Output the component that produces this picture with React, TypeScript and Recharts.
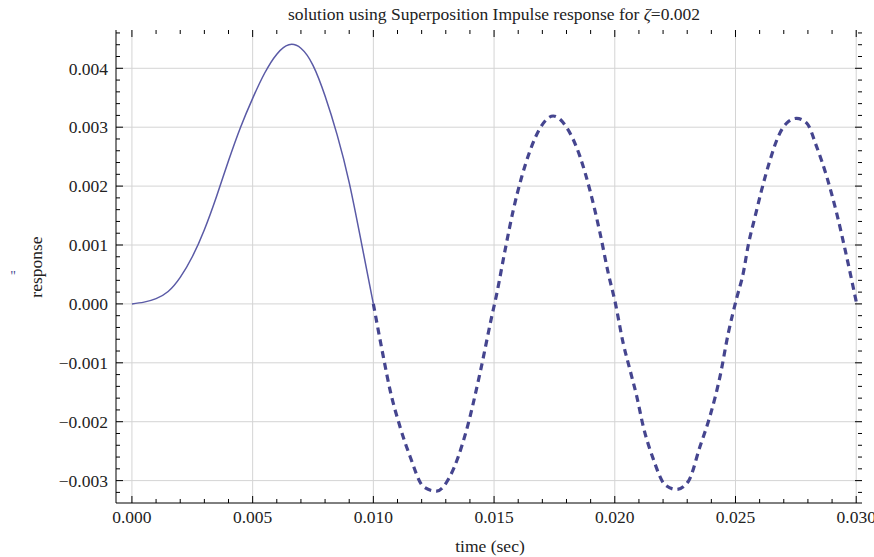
import { LineChart, Line, XAxis, YAxis, ReferenceLine } from "recharts";

// forced part (pulse acting)
const forcedTime = [
  0, 0.0005, 0.001, 0.0015, 0.002, 0.0025, 0.003, 0.0035, 0.004, 0.0045,
  0.005, 0.0055, 0.006, 0.0065, 0.007, 0.0075, 0.008, 0.0085, 0.009, 0.0095,
  0.01,
];
const forcedResponse = [
  0, 0.00003, 0.00009, 0.00021, 0.00045, 0.0008, 0.00126, 0.00182, 0.00243,
  0.003, 0.00349, 0.00392, 0.00424, 0.0044, 0.00434, 0.00405, 0.00353,
  0.00287, 0.00206, 0.00105, 0,
];

// free vibration after the pulse
const freeTime = [
  0.01, 0.01041, 0.01069, 0.0111, 0.01152, 0.01207, 0.01262, 0.01317, 0.01386,
  0.01442, 0.0149, 0.0151, 0.01545, 0.0158, 0.01614, 0.01649, 0.0169, 0.01745,
  0.018, 0.01856, 0.01897, 0.01939, 0.01973, 0.02001, 0.02035, 0.02063,
  0.02091, 0.02118, 0.0216, 0.02208, 0.02256, 0.02305, 0.02353, 0.02394,
  0.02436, 0.0247, 0.02505, 0.02532, 0.02553, 0.02581, 0.02608, 0.02643,
  0.02677, 0.02712, 0.02753, 0.02795, 0.02836, 0.02878, 0.02919, 0.02954,
  0.03002,
];
const freeResponse = [
  0, -0.00089, -0.00146, -0.00208, -0.00259, -0.0031, -0.00318, -0.00293,
  -0.00214, -0.00117, -0.00022, 0.00015, 0.0009, 0.0016, 0.00215, 0.0026,
  0.00298, 0.00319, 0.003, 0.0025, 0.00193, 0.0012, 0.00052, 0.00004,
  -0.00067, -0.00112, -0.00157, -0.00208, -0.00264, -0.00307, -0.00315,
  -0.00301, -0.00242, -0.00191, -0.00123, -0.0005, 0.0001, 0.00052, 0.001,
  0.00148, 0.00193, 0.00244, 0.00284, 0.00307, 0.00315, 0.00307, 0.00267,
  0.00216, 0.00154, 0.00092, 0,
];

const xMajorTicks = [0, 0.005, 0.01, 0.015, 0.02, 0.025, 0.03];
const yMajorTicks = [-0.003, -0.002, -0.001, 0, 0.001, 0.002, 0.003, 0.004];

const X_STEP = 0.005;
const Y_STEP = 0.001;
const X_DOMAIN = [-0.00066, 0.03024];
const Y_DOMAIN = [-0.00338, 0.00465];

// frame tick lengths, in data units (≈7px major / 4px minor)
const X_TICK_LEN = [0.00029, 0.000166];
const Y_TICK_LEN = [0.000119, 0.000068];

const FONT = '"Liberation Serif", "DejaVu Serif", serif';
const TEXT = "#222";
const FS = 17.5;

const forcedData = forcedTime.map((t, i) => ({ t, v: forcedResponse[i] }));
const freeData = freeTime.map((t, i) => ({ t, v: freeResponse[i] }));

// majors plus 4 minor ticks between each pair, clipped to the domain
function withMinors(step: number, domain: number[]) {
  const out: number[] = [];
  const sub = step / 5;
  const start = Math.ceil(domain[0] / sub - 1e-9);
  const end = Math.floor(domain[1] / sub + 1e-9);
  for (let k = start; k <= end; k++) out.push(+(k * sub).toFixed(6));
  return out;
}
const xTicks = withMinors(X_STEP, X_DOMAIN);
const yTicks = withMinors(Y_STEP, Y_DOMAIN);

function isMajor(v: number, step: number) {
  const r = v / step;
  return Math.abs(r - Math.round(r)) < 1e-6;
}

const fmtX = (v: number) => v.toFixed(3);
const fmtY = (v: number) =>
  (v < -1e-9 ? "\u2212" : "") + Math.abs(v).toFixed(3);

const tickFont = { fontFamily: FONT, fontSize: FS, fill: TEXT };

// inward tick marks on all four sides of the frame
function frameTicks() {
  const out: any[] = [];
  const [y0, y1] = Y_DOMAIN;
  const [x0, x1] = X_DOMAIN;
  xTicks.forEach((v) => {
    const len = isMajor(v, X_STEP) ? Y_TICK_LEN[0] : Y_TICK_LEN[1];
    out.push(
      <ReferenceLine key={"bx" + v} xAxisId="b" yAxisId="l" ifOverflow="visible" stroke="#000"
        segment={[{ x: v, y: y0 }, { x: v, y: y0 + len }]} />,
      <ReferenceLine key={"tx" + v} xAxisId="b" yAxisId="l" ifOverflow="visible" stroke="#000"
        segment={[{ x: v, y: y1 }, { x: v, y: y1 - len }]} />
    );
  });
  yTicks.forEach((v) => {
    const len = isMajor(v, Y_STEP) ? X_TICK_LEN[0] : X_TICK_LEN[1];
    out.push(
      <ReferenceLine key={"ly" + v} xAxisId="b" yAxisId="l" ifOverflow="visible" stroke="#000"
        segment={[{ x: x0, y: v }, { x: x0 + len, y: v }]} />,
      <ReferenceLine key={"ry" + v} xAxisId="b" yAxisId="l" ifOverflow="visible" stroke="#000"
        segment={[{ x: x1, y: v }, { x: x1 - len, y: v }]} />
    );
  });
  return out;
}

export default function App() {
  return (
    <div style={{ position: "absolute", left: 0, top: 0, width: 874, height: 557, background: "#fff" }}>
      <LineChart width={874} height={557} margin={{ top: 30, right: 12, bottom: 0, left: 0 }}>
        <XAxis xAxisId="b" type="number" dataKey="t" domain={X_DOMAIN} ticks={xMajorTicks} interval={0}
          allowDataOverflow orientation="bottom" height={54} tickSize={8} tickMargin={0}
          tickLine={false} tick={tickFont} tickFormatter={fmtX} axisLine={{ stroke: "#000" }} />
        <XAxis xAxisId="t" type="number" dataKey="t" domain={X_DOMAIN} allowDataOverflow
          orientation="top" height={0} tick={false} tickLine={false} axisLine={{ stroke: "#000" }} />
        <YAxis yAxisId="l" type="number" domain={Y_DOMAIN} ticks={yMajorTicks} interval={0}
          allowDataOverflow orientation="left" width={116} tickSize={8} tickMargin={0}
          tickLine={false} tick={tickFont} tickFormatter={fmtY} axisLine={{ stroke: "#000" }} />
        <YAxis yAxisId="r" type="number" domain={Y_DOMAIN} allowDataOverflow
          orientation="right" width={0} tick={false} tickLine={false} axisLine={{ stroke: "#000" }} />

        {xMajorTicks.map((v) => (
          <ReferenceLine key={"gx" + v} x={v} xAxisId="b" yAxisId="l" stroke="#d4d4d4" strokeWidth={1} />
        ))}
        {yMajorTicks.map((v) => (
          <ReferenceLine key={"gy" + v} y={v} xAxisId="b" yAxisId="l" stroke="#d4d4d4" strokeWidth={1} />
        ))}
        {frameTicks()}

        <Line data={forcedData} xAxisId="b" yAxisId="l" dataKey="v" type="natural"
          stroke="#5a5aa6" strokeWidth={1.5} dot={false} isAnimationActive={false} />
        <Line data={freeData} xAxisId="b" yAxisId="l" dataKey="v" type="monotone"
          stroke="#45458f" strokeWidth={3.2} strokeDasharray="7 5" dot={false} isAnimationActive={false} />

        <text x={494} y={20} textAnchor="middle" fontFamily={FONT} fontSize={FS} fill={TEXT}>
          solution using Superposition Impulse response for <tspan fontStyle="italic">ζ</tspan>=0.002
        </text>
        <text x={490} y={552} textAnchor="middle" fontFamily={FONT} fontSize={FS} fill={TEXT}>
          time (sec)
        </text>
        <text x={42} y={267} textAnchor="middle" fontFamily={FONT} fontSize={FS} fill={TEXT}
          transform="rotate(-90 42 267)">
          response
        </text>
        <text x={13} y={281} textAnchor="middle" fontFamily={FONT} fontSize={14} fill="#4a4a90">
          {'"'}
        </text>
      </LineChart>
    </div>
  );
}
